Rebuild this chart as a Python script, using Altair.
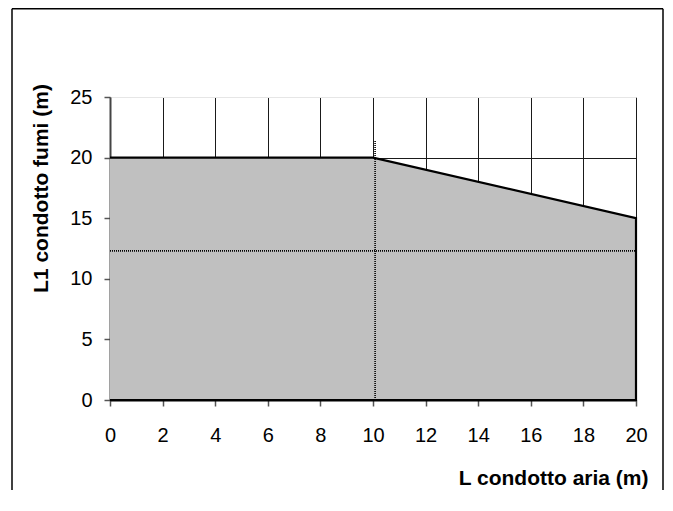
import altair as alt
import pandas as pd

# ---- data ----
area_x = [0, 10, 20]
area_y = [20, 20, 15]
outline_x = [0, 10, 20, 20, 0]
outline_y = [20, 20, 15, 0, 0]
ref_vert_x = [10.08]
ref_vert_top = [21.4]
ref_horiz_y = [12.3]
x_ticks = [0, 2, 4, 6, 8, 10, 12, 14, 16, 18, 20]
y_ticks = [0, 5, 10, 15, 20, 25]

area_df = pd.DataFrame({"x": area_x, "y": area_y})
line_df = pd.DataFrame({"x": outline_x, "y": outline_y, "i": list(range(len(outline_x)))})
vref_df = pd.DataFrame({"x": ref_vert_x, "y0": [0], "y1": ref_vert_top})
href_df = pd.DataFrame({"y": ref_horiz_y, "x0": [0], "x1": [20]})
dummy = pd.DataFrame({"a": [0]})

FONT = "Liberation Sans"
xscale = alt.Scale(domain=[0, 20], nice=False, zero=False)
yscale = alt.Scale(domain=[0, 25], nice=False)

xaxis = alt.Axis(
    values=x_ticks, title="L condotto aria (m)", grid=True, gridColor="#1a1a1a",
    gridWidth=1, domainColor="#000000", domainWidth=2, tickColor="#555555",
    tickSize=6, tickWidth=1.5, labelFontSize=20, labelFont=FONT, labelColor="#000",
    labelPadding=19, labelFlush=False, titleFont=FONT, titleFontSize=21,
    titleFontWeight="bold", titleColor="#000", titleX=538, titleY=78,
    titleAlign="right", titleBaseline="middle", titleAnchor="end",
)
yaxis = alt.Axis(
    values=y_ticks, title="L1 condotto fumi (m)", grid=True,
    gridColor={"condition": {"test": "datum.value === 25", "value": "#e6e6e6"}, "value": "#1a1a1a"},
    gridWidth=1, domainColor="#444444", domainWidth=2, tickColor="#555555",
    tickSize=6, tickWidth=1.5, labelFontSize=20, labelFont=FONT, labelColor="#000",
    labelPadding=12, labelFlush=False, titleFont=FONT, titleFontSize=21,
    titleFontWeight="bold", titleColor="#000", titleX=-69, titleY=91,
    titleAngle=-90, titleAlign="center", titleBaseline="middle",
)

area = alt.Chart(area_df).mark_area(color="#c0c0c0", opacity=1).encode(
    x=alt.X("x:Q", scale=xscale, axis=xaxis),
    y=alt.Y("y:Q", scale=yscale, axis=yaxis),
)

outline = alt.Chart(line_df).mark_line(color="#000000", strokeWidth=2.2).encode(
    x=alt.X("x:Q", scale=xscale),
    y=alt.Y("y:Q", scale=yscale),
    order="i:O",
)

vref = alt.Chart(vref_df).mark_rule(color="#000000", strokeWidth=1.6, strokeDash=[1, 1]).encode(
    x=alt.X("x:Q", scale=xscale),
    y=alt.Y("y0:Q", scale=yscale),
    y2="y1:Q",
)
href = alt.Chart(href_df).mark_rule(color="#000000", strokeWidth=1.6, strokeDash=[1, 1]).encode(
    y=alt.Y("y:Q", scale=yscale),
    x=alt.X("x0:Q", scale=xscale),
    x2="x1:Q",
)

frame_left = alt.Chart(dummy).mark_rule(color="#000", strokeWidth=1.5).encode(
    x=alt.value(-98), y=alt.value(-88.2), y2=alt.value(400))
frame_top = alt.Chart(dummy).mark_rule(color="#000", strokeWidth=1.5).encode(
    x=alt.value(-98), x2=alt.value(553), y=alt.value(-88.2))
frame_right = alt.Chart(dummy).mark_rule(color="#000", strokeWidth=1.5).encode(
    x=alt.value(553), y=alt.value(-88.2), y2=alt.value(400))

chart = alt.layer(area, outline, vref, href, frame_left, frame_top, frame_right).properties(
    width=526, height=303,
    autosize=alt.AutoSizeParams(type="none"),
    padding={"left": 102, "top": 89, "right": 28, "bottom": 90},
    background="#ffffff",
).configure_view(stroke=None)

chart.save("out.html", embed_options={"renderer": "svg", "actions": False})
